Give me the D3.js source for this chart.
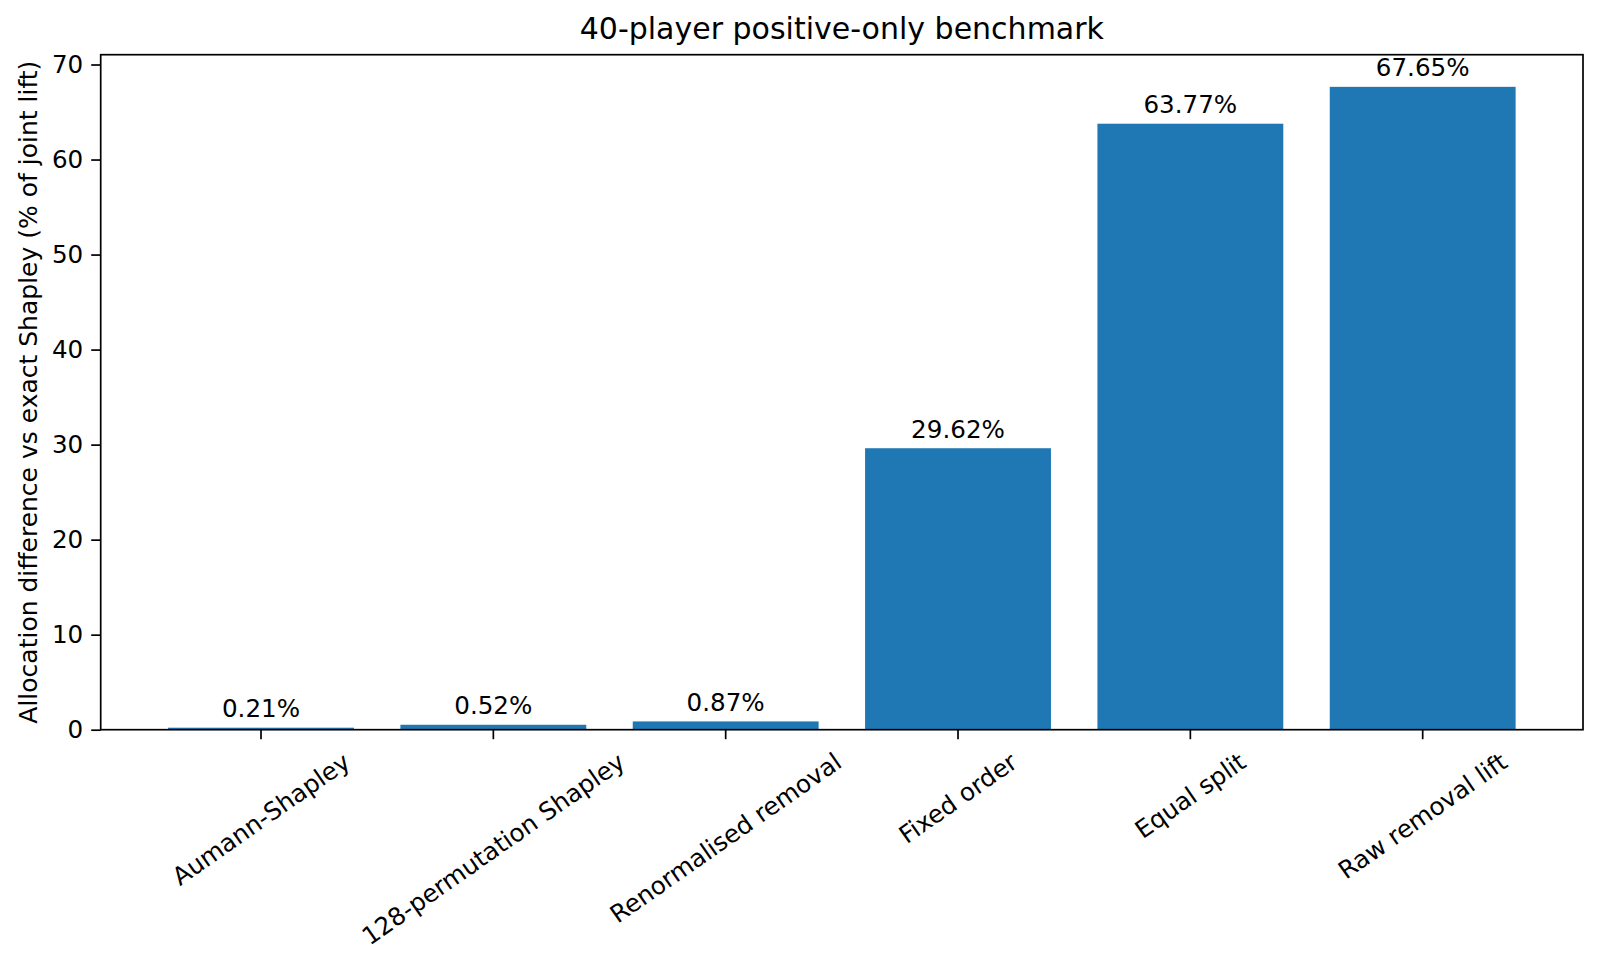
<!DOCTYPE html>
<html>
<head>
<meta charset="utf-8">
<script src="https://cdn.jsdelivr.net/npm/d3@7"></script>
<style>
  body { margin: 0; background: #fff; }
  text { font-family: "DejaVu Sans", sans-serif; fill: #000; }
</style>
</head>
<body>
<div id="chart"></div>
<script>
const methods = [
  "Aumann-Shapley",
  "128-permutation Shapley",
  "Renormalised removal",
  "Fixed order",
  "Equal split",
  "Raw removal lift",
];
const diffs = [0.21, 0.52, 0.87, 29.62, 63.77, 67.65];
const yTicks = [0, 10, 20, 30, 40, 50, 60, 70];

const W = 1600, H = 968;
const margin = { top: 54.7, right: 17, bottom: 238.3, left: 100.7 };
const width = W - margin.left - margin.right;
const height = H - margin.top - margin.bottom;
const tickFont = 24.6;
const tickLen = 9.5;
const tickPad = 8;

const svg = d3.select("#chart")
  .append("svg")
  .attr("width", W)
  .attr("height", H);

const g = svg.append("g")
  .attr("transform", "translate(" + margin.left + "," + margin.top + ")");

// matplotlib-like x limits: bars of width 0.8 plus 5% margins
const x = d3.scaleLinear().domain([-0.69, 5.69]).range([0, width]);
const y = d3.scaleLinear().domain([0, d3.max(diffs) * 1.05]).range([height, 0]);

g.selectAll("rect.bar")
  .data(diffs)
  .join("rect")
  .attr("class", "bar")
  .attr("x", (d, i) => x(i - 0.4))
  .attr("width", x(0.8) - x(0))
  .attr("y", (d) => y(d))
  .attr("height", (d) => y(0) - y(d))
  .attr("fill", "#1f77b4");

// value labels
g.selectAll("text.val")
  .data(diffs)
  .join("text")
  .attr("class", "val")
  .attr("x", (d, i) => x(i))
  .attr("y", (d) => y(d) - 10.5)
  .attr("text-anchor", "middle")
  .style("font-size", tickFont + "px")
  .text((d) => d.toFixed(2) + "%");

// y axis
const yAxis = g.append("g")
  .call(d3.axisLeft(y).tickValues(yTicks).tickSize(tickLen).tickPadding(tickPad));
yAxis.select(".domain").remove();
yAxis.selectAll(".tick line").attr("stroke", "#000").attr("stroke-width", 1.7);
yAxis.selectAll(".tick text")
  .style("font-size", tickFont + "px")
  .style("font-family", "DejaVu Sans")
  .attr("fill", "#000");

// x axis ticks
const xTicks = g.append("g").attr("transform", "translate(0," + height + ")");
xTicks.selectAll("line")
  .data(methods)
  .join("line")
  .attr("x1", (d, i) => x(i))
  .attr("x2", (d, i) => x(i))
  .attr("y1", 0)
  .attr("y2", tickLen)
  .attr("stroke", "#000")
  .attr("stroke-width", 1.7);

// rotated labels, bbox centred on the tick like matplotlib
const ang = 35 * Math.PI / 180;
const lab = xTicks.selectAll("g.lab")
  .data(methods)
  .join("g")
  .attr("class", "lab");
lab.append("text")
  .attr("text-anchor", "middle")
  .attr("dominant-baseline", "central")
  .style("font-size", tickFont + "px")
  .text((d) => d);
lab.each(function (d, i) {
  const t = d3.select(this).select("text");
  const w = t.node().getComputedTextLength();
  const lh = tickFont * 1.164;
  const bh = w * Math.sin(ang) + lh * Math.cos(ang);
  d3.select(this).attr("transform",
    "translate(" + x(i) + "," + (tickLen + tickPad + bh / 2) + ") rotate(-35)");
});

// frame
g.append("rect")
  .attr("width", width)
  .attr("height", height)
  .attr("fill", "none")
  .attr("stroke", "#000")
  .attr("stroke-width", 1.7);

// title
svg.append("text")
  .attr("x", margin.left + width / 2)
  .attr("y", 39)
  .attr("text-anchor", "middle")
  .style("font-size", "30px")
  .text("40-player positive-only benchmark");

// y label
svg.append("text")
  .attr("transform", "translate(28," + (margin.top + height / 2) + ") rotate(-90)")
  .attr("text-anchor", "middle")
  .attr("dominant-baseline", "central")
  .style("font-size", "25px")
  .text("Allocation difference vs exact Shapley (% of joint lift)");
</script>
</body>
</html>
